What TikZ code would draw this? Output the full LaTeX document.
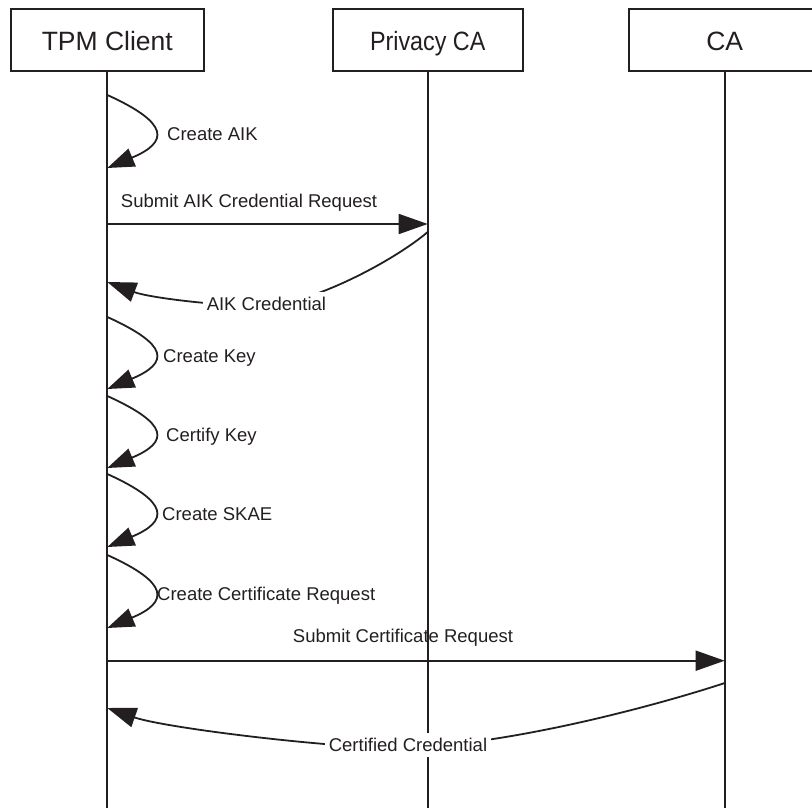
\documentclass[tikz,border=0pt]{standalone}
\usepackage{fontspec}
\usepackage{graphicx}
\setmainfont{Liberation Sans}
\usetikzlibrary{arrows.meta}
\definecolor{ink}{RGB}{35,31,32}
\begin{document}
\begin{tikzpicture}[x=1pt,y=-1pt,
  actor/.style={draw=ink, line width=1.8pt, fill=white, minimum height=62pt, inner sep=0pt,
    text height=24pt, text depth=3pt,
    text=ink, font=\fontsize{26.5}{32}\selectfont},
  life/.style={draw=ink, line width=1.7pt},
  msg/.style={draw=ink, line width=1.8pt, -{Triangle[length=29pt,width=20pt]}},
  selfmsg/.style={draw=ink, line width=1.8pt, -{Triangle[length=27pt,width=19pt]}},
  lbl/.style={text=ink, font=\fontsize{18.5}{22}\selectfont, inner sep=0pt},
  cover/.style={lbl, fill=white, inner xsep=4pt, inner ysep=5pt}
]
\useasboundingbox (0,0) rectangle (812,808);
% actors
\node[actor, minimum width=193pt] (tpm) at (107.3,40) {TPM Client};
\node[actor, minimum width=190pt] (pca) at (427.7,40) {\scalebox{0.88}[1]{Privacy CA}};
\node[actor, minimum width=191pt] (ca) at (724.7,40) {CA};
\coordinate (bot) at (0,812);
% lifelines
\draw[life] (tpm.south) -- (tpm.south |- bot);
\draw[life] (pca.south) -- (pca.south |- bot);
\draw[life] (ca.south) -- (ca.south |- bot);
% lifeline points
\coordinate (s1a) at (107.3,95);  \coordinate (s1b) at (107.3,168);
\coordinate (s2a) at (107.3,317); \coordinate (s2b) at (107.3,389);
\coordinate (s3a) at (107.3,396); \coordinate (s3b) at (107.3,468);
\coordinate (s4a) at (107.3,474); \coordinate (s4b) at (107.3,547);
\coordinate (s5a) at (107.3,555); \coordinate (s5b) at (107.3,628);
\coordinate (m1a) at (107.3,224); \coordinate (m1b) at (427.7,224);
\coordinate (r1a) at (427.7,232); \coordinate (r1b) at (107.3,282);
\coordinate (m2a) at (107.3,660.7); \coordinate (m2b) at (724.7,660.7);
\coordinate (r2a) at (724.7,683); \coordinate (r2b) at (107.3,708);
% self messages
\draw[selfmsg] (s1a) .. controls +(62,28) and +(62,-26) .. (s1b);
\draw[selfmsg] (s2a) .. controls +(62,28) and +(62,-26) .. (s2b);
\draw[selfmsg] (s3a) .. controls +(62,28) and +(62,-26) .. (s3b);
\draw[selfmsg] (s4a) .. controls +(62,28) and +(62,-26) .. (s4b);
\draw[selfmsg] (s5a) .. controls +(62,28) and +(62,-26) .. (s5b);
\node[lbl, anchor=base west] (t1) at (167,140) {Create AIK};
\node[lbl, anchor=base west] (t3) at (163,362.5) {Create Key};
\node[lbl, anchor=base west] (t4) at (166,441.5) {Certify Key};
\node[lbl, anchor=base west] (t5) at (162,520.5) {Create SKAE};
\node[lbl, anchor=base west] (t6) at (157,600) {Create Certificate Request};
% messages
\draw[msg] (m1a) -- (m1b);
\node[lbl, anchor=base] (t2) at (249,207) {Submit AIK Credential Request};
\draw[msg] (r1a) .. controls (395,260) and (310,306) .. (260,306)
                 .. controls (220,306) and (150,298) .. (r1b);
\node[cover, anchor=base] (t2r) at (266.4,310) {AIK Credential};
\draw[msg] (m2a) -- (m2b);
\node[lbl, anchor=base] (t7) at (403,642.7) {Submit Certificate Request};
\draw[msg] (r2a) .. controls (680,698) and (520,745) .. (400,748)
                 .. controls (330,748) and (165,728) .. (r2b);
\node[cover, anchor=base] (t8) at (408,751.5) {Certified Credential};
\end{tikzpicture}
\end{document}
